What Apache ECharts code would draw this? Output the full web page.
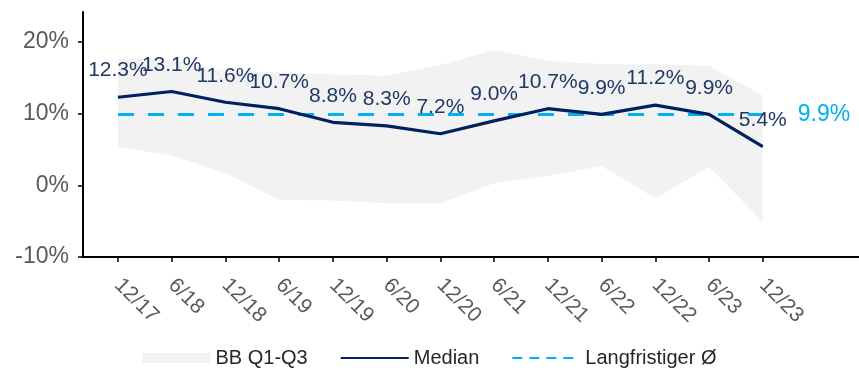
<!DOCTYPE html>
<html>
<head>
<meta charset="utf-8">
<script src="https://cdn.jsdelivr.net/npm/echarts@6/dist/echarts.min.js"></script>
<style>
html,body{margin:0;padding:0;background:#fff;}
#chart{width:859px;height:370px;}
</style>
</head>
<body>
<div id="chart"></div>
<script>
const categories = ['12/17','6/18','12/18','6/19','12/19','6/20','12/20','6/21','12/21','6/22','12/22','6/23','12/23'];
const median = [12.3,13.1,11.6,10.7,8.8,8.3,7.2,9.0,10.7,9.9,11.2,9.9,5.4];
const q1 = [5.3,4.2,1.7,-2.0,-2.1,-2.5,-2.5,0.3,1.3,2.7,-1.8,2.6,-5.1];
const q3 = [17.7,17.5,16.0,15.8,15.5,15.3,16.8,18.9,17.4,16.9,16.9,16.7,12.5];
const longTermAvg = 9.9;
const yTicks = [-10,0,10,20];

const idx = categories.map((c,i)=>i);
const pts = arr => arr.map((v,i)=>[i,v]);
const bandData = categories.map((c,i)=>[i,q1[i],q3[i]]);
const chart = echarts.init(document.getElementById('chart'));
const font = 'Liberation Sans, Arial, sans-serif';
chart.setOption({
  animation:false,
  textStyle:{fontFamily:font},
  grid:{left:83,right:0,top:12,bottom:113},
  xAxis:{
    type:'value', min:-0.65, max:13.79,
    axisLine:{show:true,onZero:false,lineStyle:{color:'#000',width:2}},
    axisTick:{show:true,customValues:idx,length:5,lineStyle:{color:'#000',width:1.5}},
    axisLabel:{customValues:idx,formatter:v=>categories[Math.round(v)],rotate:-45,margin:25,color:'#595959',fontSize:21,fontFamily:font},
    splitLine:{show:false}
  },
  yAxis:{
    type:'value', min:-10, max:24.2,
    axisLine:{show:true,onZero:false,lineStyle:{color:'#000',width:2}},
    axisTick:{show:true,customValues:yTicks,length:5,lineStyle:{color:'#000',width:1.5}},
    axisLabel:{customValues:yTicks,formatter:v=>v+'%',margin:14,color:'#595959',fontSize:23,fontFamily:font},
    splitLine:{show:false}
  },
  legend:{
    left:'center', top:343, itemWidth:68, itemHeight:10, itemGap:32,
    textStyle:{color:'#262626',fontSize:20,fontFamily:font},
    data:[
      {name:'BB Q1-Q3',icon:'rect',itemStyle:{color:'#f2f2f2'}},
      {name:'Median',itemStyle:{opacity:0}},
      {name:'Langfristiger Ø',itemStyle:{opacity:0},lineStyle:{type:[10,7]}}
    ]
  },
  series:[
    {name:'BB Q1-Q3',type:'custom',data:bandData,silent:true,z:1,
      itemStyle:{color:'#f2f2f2'},
      encode:{x:0,y:[1,2]},
      renderItem:function(params,api){
        if(params.dataIndex!==0) return null;
        const upper=[],lower=[];
        for(let i=0;i<bandData.length;i++){
          upper.push(api.coord([bandData[i][0],bandData[i][2]]));
          lower.unshift(api.coord([bandData[i][0],bandData[i][1]]));
        }
        return {type:'polygon',shape:{points:upper.concat(lower)},style:{fill:'#f2f2f2'}};
      }},
    {name:'Langfristiger Ø',type:'line',data:pts(categories.map(()=>longTermAvg)),symbol:'none',
      lineStyle:{color:'#00B0F0',width:3,type:[16,14]},itemStyle:{color:'#00B0F0'},z:2,
      endLabel:{show:true,formatter:longTermAvg.toFixed(1)+'%',color:'#00B0F0',fontSize:23,fontFamily:font,distance:35}},
    {name:'Median',type:'line',data:pts(median),symbol:'circle',symbolSize:0.1,showSymbol:true,
      lineStyle:{color:'#002060',width:3.2},itemStyle:{color:'#002060'},z:3,
      label:{show:true,position:'top',distance:16,formatter:p=>p.value[1].toFixed(1)+'%',color:'#1F3864',fontSize:21,fontFamily:font}}
  ]
});
</script>
</body>
</html>
